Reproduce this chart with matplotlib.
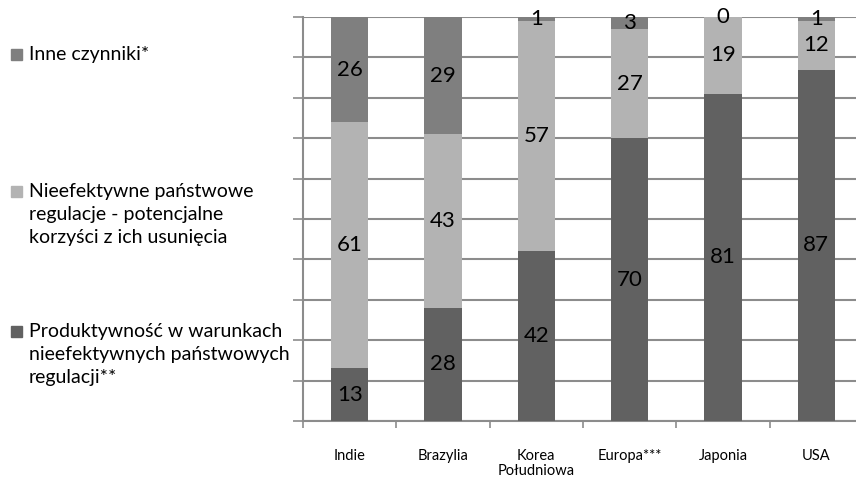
import matplotlib
matplotlib.use("Agg")
import matplotlib.pyplot as plt
from matplotlib.patches import Rectangle
import numpy as np

plt.rcParams['font.family'] = ['Lato', 'DejaVu Sans']

# dane: udział czynników w luce produktywności (%)
kraje = ['Indie', 'Brazylia', 'Korea\nPołudniowa', 'Europa***', 'Japonia', 'USA']
produktywnosc = [13, 28, 42, 70, 81, 87]
regulacje = [61, 43, 57, 27, 19, 12]
inne = [26, 29, 1, 3, 0, 1]

etykiety = [['Inne czynniki*'],
            ['Nieefektywne państwowe', 'regulacje - potencjalne', 'korzyści z ich usunięcia'],
            ['Produktywność w warunkach', 'nieefektywnych państwowych', 'regulacji**']]
kolory = ['#7f7f7f', '#b3b3b3', '#616161']

fig = plt.figure(figsize=(8.56, 4.79), dpi=100)
ax = fig.add_axes([303/856, 1 - 421/479, 560/856, 404/479])

x = np.arange(len(kraje))
w = 0.4
serie = [produktywnosc, regulacje, inne]
kol_serii = [kolory[2], kolory[1], kolory[0]]
dol = np.zeros(len(kraje))
for wart, kol in zip(serie, kol_serii):
    wart = np.array(wart)
    ax.bar(x, wart, w, bottom=dol, color=kol, zorder=3)
    for xi, d, v in zip(x, dol, wart):
        ax.text(xi, d + v / 2, str(v), ha='center', va='center',
                fontsize=16, color='black', zorder=4)
    dol = dol + wart

ax.set_xlim(-0.5, len(kraje) - 0.5)
ax.set_ylim(0, 100)

# siatka i osie
ax.set_yticks(np.arange(0, 101, 10))
ax.set_yticklabels([])
ax.yaxis.grid(True, color='#8c8c8c', linewidth=1.5, zorder=0)
ax.tick_params(axis='y', length=7, width=1.2, color='#8c8c8c')

ax.set_xticks(np.arange(-0.5, len(kraje), 1))
ax.set_xticklabels([])
ax.set_xticks(x, minor=True)
ax.set_xticklabels(kraje, minor=True, fontsize=10.5, linespacing=1.15)
ax.tick_params(axis='x', which='major', length=5, width=1.2, color='#8c8c8c')
ax.tick_params(axis='x', which='minor', length=0, pad=20)

for s in ['top', 'right']:
    ax.spines[s].set_visible(False)
for s in ['left', 'bottom']:
    ax.spines[s].set_color('#8c8c8c')
    ax.spines[s].set_linewidth(1.5)

# legenda po lewej stronie (linie bazowe tekstu w pikselach od góry)
bazy = [60, 197, 337]
for kol, linie, yb in zip(kolory, etykiety, bazy):
    fig.patches.append(Rectangle((11/856, 1 - yb/479), 11/856, 11/479,
                                 transform=fig.transFigure, color=kol))
    for i, linia in enumerate(linie):
        fig.text(29/856, 1 - (yb + 23 * i)/479, linia, fontsize=14,
                 va='baseline', ha='left')

fig.savefig('out.png', dpi=100)
